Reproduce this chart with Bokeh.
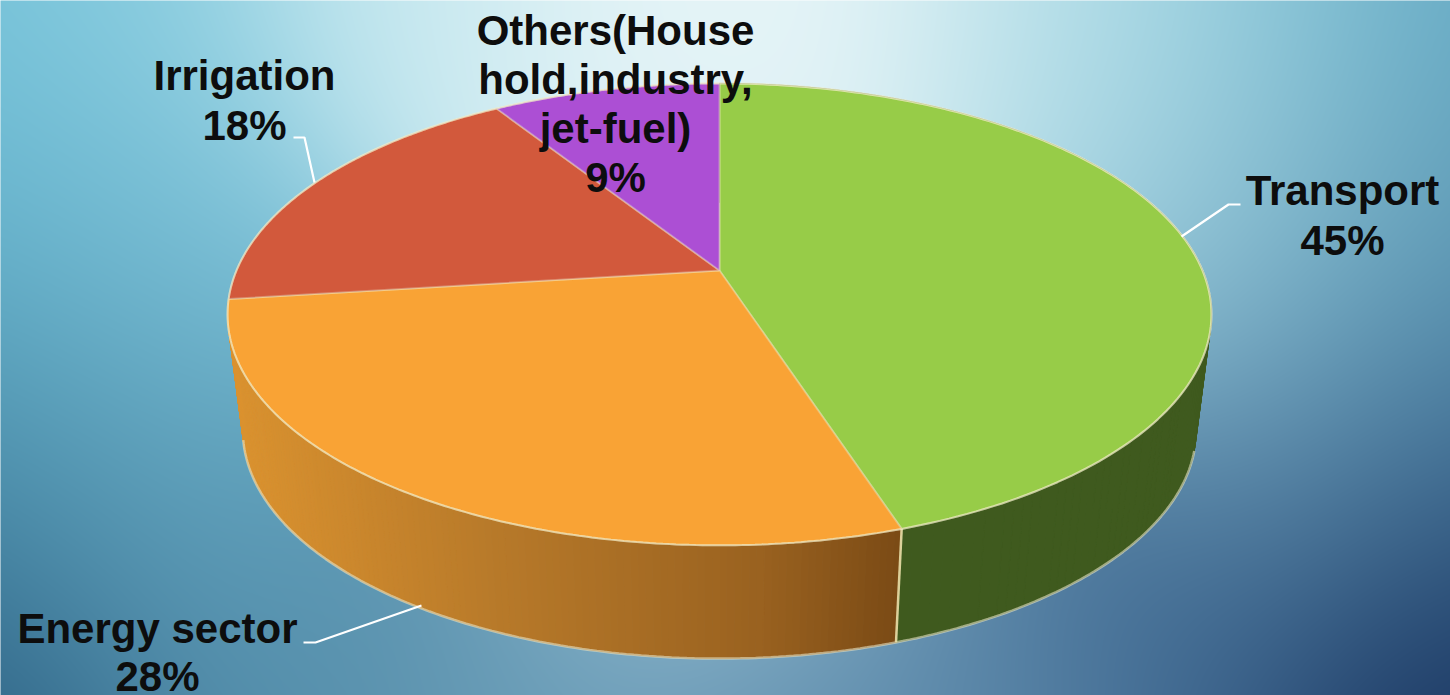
import numpy as np
from bokeh.embed import file_html
from bokeh.models import Range1d
from bokeh.plotting import figure
from bokeh.resources import INLINE
from bokeh.core.properties import value

W, H = 1450, 695

# Fuel consumption shares, clockwise from twelve o'clock
categories = ["Transport", "Energy sector", "Irrigation", "Others(House\nhold,industry,\njet-fuel)"]
shares = [45, 28, 18, 9]
top_colors = ["#97cc48", "#f9a335", "#d2593c", "#ac4fd4"]
wall_green = "#3f5a1e"

# Anchor of each label block (centre x, centre y of first line, line spacing)
label_layout = [(1342, 190, 50), (157, 628, 48), (244, 75, 50), (615, 30, 49)]
leaders = [
    [(1181, 236), (1228, 204), (1240, 204)],
    [(421, 605), (315, 642), (303, 642)],
    [(314, 182), (304, 137), (293, 137)],
]

# Backdrop colour samples: x, y, hex
backdrop = [
    (0, 0, "#6fc0d8"), (130, 0, "#96d4e4"), (400, 0, "#c8e9f0"), (650, 0, "#e2f3f6"),
    (820, 5, "#edf8fa"), (1000, 20, "#c9e8ee"), (1150, 0, "#a8dae6"), (1150, 100, "#b4dde8"),
    (1300, 0, "#82c6d8"), (1300, 150, "#88bfd2"), (1450, 0, "#60a8c4"), (1450, 150, "#5c9cb8"),
    (0, 200, "#62b2cc"), (150, 250, "#80c4da"), (720, 300, "#d8ecf2"), (1250, 250, "#8cc0d4"),
    (1450, 250, "#5592ae"), (0, 400, "#4f97b3"), (150, 450, "#6aaec6"),
    (1450, 400, "#44749a"), (1280, 450, "#6c9cb8"), (0, 550, "#3f7d9c"), (200, 600, "#5f9cb8"),
    (0, 695, "#235478"), (300, 690, "#5089a6"), (500, 680, "#6d9fb9"), (800, 690, "#6492b0"),
    (1000, 680, "#5a86a8"), (1200, 640, "#38608a"), (1450, 695, "#142c58"), (1450, 550, "#2b5079"),
    (720, 500, "#a0c8da"),
]


def hex_rgb(h):
    return np.array([int(h[i:i + 2], 16) for i in (1, 3, 5)], dtype=float)


def backdrop_image():
    yy, xx = np.mgrid[0:H, 0:W].astype(np.float32)
    total = np.zeros((H, W, 3), dtype=np.float32)
    weight = np.zeros((H, W), dtype=np.float32)
    for x, y, c in backdrop:
        w = np.exp(-((xx - x) ** 2 + (yy - y) ** 2) / (2 * 130.0 ** 2))
        total += w[..., None] * hex_rgb(c).astype(np.float32)
        weight += w
    rgb = total / weight[..., None]
    img = np.full((H, W), 0, dtype=np.uint32)
    view = img.view(dtype=np.uint8).reshape((H, W, 4))
    view[..., :3] = np.clip(rgb, 0, 255).astype(np.uint8)
    view[..., 3] = 255
    return img[::-1]


def rim(theta, cy, r, b, k=0.19, cx=719.0):
    """Perspective projection of a disc's rim; theta is clockwise from the top."""
    u, v = np.sin(theta), np.cos(theta)
    s = 1.0 / (1.0 + k * v)
    return cx + r * u * s, H - (cy - b * v * s)


TOP = dict(cy=270.0, r=483.0, b=222.6)
BOTTOM = dict(cy=386.7, r=468.0, b=219.8)
APEX = (719.0, H - 270.0)

p = figure(width=W, height=H, x_range=Range1d(0, W), y_range=Range1d(0, H),
           output_backend="svg", toolbar_location=None, min_border=0,
           border_fill_color="#6fb4cc")
p.axis.visible = False
p.grid.visible = False
p.outline_line_color = None
p.background_fill_color = None
p.image_rgba(image=[backdrop_image()], x=-1, y=-1, dw=W + 2, dh=H + 2)

cum = np.concatenate([[0], np.cumsum(shares)]) / sum(shares) * 2 * np.pi

# Outer wall, built from thin slivers so the orange can shade left to right
xs, ys, fills = [], [], []
orange_stops = [(230, hex_rgb("#dd9430")), (500, hex_rgb("#b87a2a")), (760, hex_rgb("#9a6220")), (900, hex_rgb("#7a4a15"))]
stop_x = [s[0] for s in orange_stops]
for i in (0, 1):
    edges = np.linspace(cum[i], cum[i + 1], 141)
    for a0, a1 in zip(edges[:-1], edges[1:]):
        tx, ty = rim(np.array([a0, a1]), **TOP)
        bx, by = rim(np.array([a1, a0]), **BOTTOM)
        xs.append(list(tx) + list(bx))
        ys.append(list(ty) + list(by))
        if i == 0:
            fills.append(wall_green)
        else:
            mx = float(np.mean(bx))
            rgb = [np.interp(mx, stop_x, [s[1][c] for s in orange_stops]) for c in range(3)]
            fills.append("#%02x%02x%02x" % tuple(int(c) for c in rgb))
p.patches(xs, ys, fill_color=fills, line_color=fills, line_width=1)

# Pale highlight along the visible lower rim and the seam between the two wall colours
low = np.linspace(1.85, 4.48, 200)
bx, by = rim(low, **BOTTOM)
p.line(bx, by, line_color="#e6e2c4", line_width=2.5, line_alpha=0.6)
sx0, sy0 = rim(np.array([cum[1]]), **TOP)
sx1, sy1 = rim(np.array([cum[1]]), **BOTTOM)
p.line([sx0[0], sx1[0]], [sy0[0], sy1[0]], line_color="#e8dfa8", line_width=2.5, line_alpha=0.9)

# Top faces, with soft radial edges and a brighter outer rim
for i, color in enumerate(top_colors):
    arc = np.linspace(cum[i], cum[i + 1], 160)
    ax, ay = rim(arc, **TOP)
    p.patch(np.r_[APEX[0], ax], np.r_[APEX[1], ay], fill_color=color,
            line_color="#f2ecc8", line_alpha=0.35, line_width=2)
    p.line(ax, ay, line_color="#f2ecc8", line_alpha=0.6, line_width=2)

# Leader lines
for pts in leaders:
    p.line([q[0] for q in pts], [H - q[1] for q in pts], line_color="white", line_width=2.2)

# Labels: category on the first lines, share below
for name, share, (cx, first, step) in zip(categories, shares, label_layout):
    lines = name.split("\n") + [f"{share}%"]
    p.text([cx] * len(lines), [H - (first + step * j) for j in range(len(lines))], text=lines,
           text_font=value("Liberation Sans"), text_font_style="bold", text_font_size="42px",
           text_color="#0d0d0d", text_align="center", text_baseline="middle")

open("out.html", "w").write(file_html(p, INLINE))
